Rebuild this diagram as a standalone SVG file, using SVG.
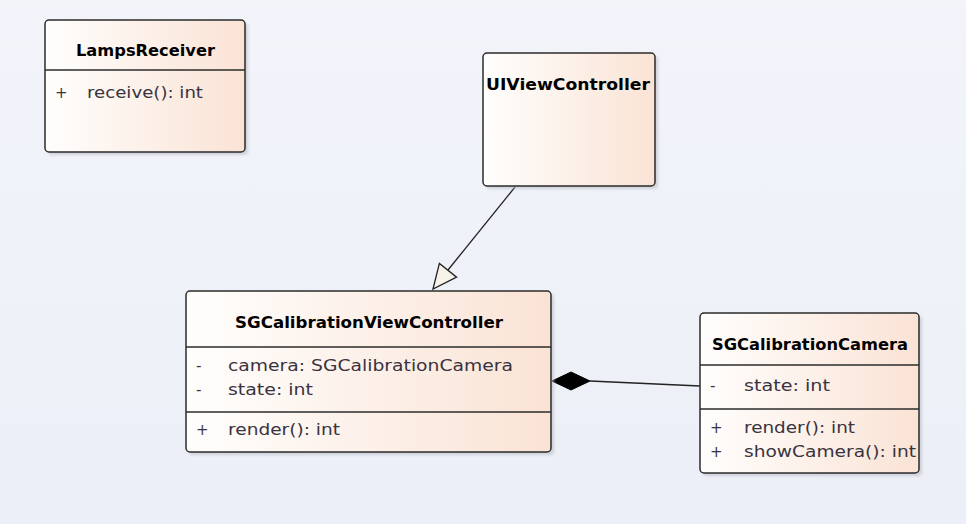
<svg xmlns="http://www.w3.org/2000/svg" width="966" height="524" viewBox="0 0 966 524">
<defs>
<linearGradient id="bg" x1="0" y1="0" x2="0" y2="1">
<stop offset="0" stop-color="#f2f4fa"/>
<stop offset="1" stop-color="#eceff7"/>
</linearGradient>
<linearGradient id="nodefill" x1="0" y1="0" x2="1" y2="0">
<stop offset="0" stop-color="#fffefd"/>
<stop offset="1" stop-color="#fae3d5"/>
</linearGradient>
<filter id="sh" x="-10%" y="-10%" width="130%" height="130%">
<feGaussianBlur stdDeviation="1.5"/>
</filter>
</defs>
<style>
.shadow{fill:#b9bcc4;opacity:0.6;filter:url(#sh)}
.box{fill:url(#nodefill);stroke:#2b2b2b;stroke-width:1.5}
.sep{stroke:#2b2b2b;stroke-width:1.5}
.title{font-family:"DejaVu Sans","Liberation Sans",sans-serif;font-size:15px;font-weight:bold;fill:#000}
.mem{font-family:"DejaVu Sans","Liberation Sans",sans-serif;font-size:15px;fill:#3a3340}
.conn{stroke:#222;stroke-width:1.3;fill:none}
</style>
<rect width="966" height="524" fill="url(#bg)"/>

<g id="connectors">
<line class="conn" x1="515" y1="187" x2="448" y2="270"/>
<polygon points="433,289 439.4,263.4 456.6,277.2" fill="#f8f3ea" stroke="#222" stroke-width="1.3"/>
<line class="conn" x1="590" y1="381" x2="700" y2="386"/>
<polygon points="552,381 571,372 590,381 571,390" fill="#000" stroke="#000" stroke-width="1"/>
</g>

<g id="LampsReceiver">
<rect class="shadow" x="48" y="23" width="200" height="132" rx="4"/>
<rect class="box" x="45" y="20" width="200" height="132" rx="4"/>
<line class="sep" x1="45" y1="70" x2="245" y2="70"/>
<text class="title" x="76" y="56" textLength="139" lengthAdjust="spacingAndGlyphs">LampsReceiver</text>
<text class="mem" x="55" y="98">+</text>
<text class="mem" x="87" y="98" textLength="116" lengthAdjust="spacingAndGlyphs">receive(): int</text>
</g>

<g id="UIViewController">
<rect class="shadow" x="486" y="56" width="172" height="133" rx="4"/>
<rect class="box" x="483" y="53" width="172" height="133" rx="4"/>
<text class="title" x="486" y="90" textLength="164" lengthAdjust="spacingAndGlyphs">UIViewController</text>
</g>

<g id="SGCalibrationViewController">
<rect class="shadow" x="189" y="294" width="365" height="161" rx="4"/>
<rect class="box" x="186" y="291" width="365" height="161" rx="4"/>
<line class="sep" x1="186" y1="347" x2="551" y2="347"/>
<line class="sep" x1="186" y1="412" x2="551" y2="412"/>
<text class="title" x="235" y="328" textLength="268" lengthAdjust="spacingAndGlyphs">SGCalibrationViewController</text>
<text class="mem" x="196" y="371">-</text>
<text class="mem" x="228" y="371" textLength="285" lengthAdjust="spacingAndGlyphs">camera: SGCalibrationCamera</text>
<text class="mem" x="196" y="395">-</text>
<text class="mem" x="228" y="395" textLength="85" lengthAdjust="spacingAndGlyphs">state: int</text>
<text class="mem" x="196" y="435">+</text>
<text class="mem" x="228" y="435" textLength="112" lengthAdjust="spacingAndGlyphs">render(): int</text>
</g>

<g id="SGCalibrationCamera">
<rect class="shadow" x="703" y="316" width="219" height="160" rx="4"/>
<rect class="box" x="700" y="313" width="219" height="160" rx="4"/>
<line class="sep" x1="700" y1="365" x2="919" y2="365"/>
<line class="sep" x1="700" y1="409" x2="919" y2="409"/>
<text class="title" x="712" y="350" textLength="196" lengthAdjust="spacingAndGlyphs">SGCalibrationCamera</text>
<text class="mem" x="710" y="391">-</text>
<text class="mem" x="744" y="391" textLength="86" lengthAdjust="spacingAndGlyphs">state: int</text>
<text class="mem" x="710" y="433">+</text>
<text class="mem" x="744" y="433" textLength="111" lengthAdjust="spacingAndGlyphs">render(): int</text>
<text class="mem" x="710" y="457">+</text>
<text class="mem" x="744" y="457" textLength="172" lengthAdjust="spacingAndGlyphs">showCamera(): int</text>
</g>
</svg>
